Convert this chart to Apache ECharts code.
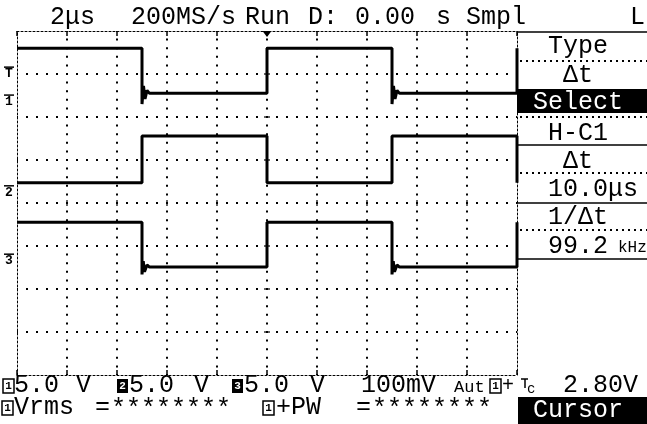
<!DOCTYPE html>
<html><head><meta charset="utf-8">
<script src="https://cdn.jsdelivr.net/npm/echarts@6/dist/echarts.min.js"></script>
<style>html,body{margin:0;padding:0;background:#fff}#c{width:647px;height:424px}</style>
</head><body><div id="c"></div>
<script>
// Time in µs (2 µs/div, 10 div); vertical position in screen divisions (-4..4)
const ch1Time = [0, 5.0, 5.0, 5.06, 5.12, 5.2, 5.3, 10.0, 10.0, 15.0, 15.0, 15.06, 15.12, 15.2, 15.3, 20.0, 20.0];
const ch1Div  = [3.6, 3.6, 2.3, 2.72, 2.42, 2.62, 2.55, 2.55, 3.6, 3.6, 2.3, 2.72, 2.42, 2.62, 2.55, 2.55, 3.6];
const ch2Time = [0, 5.0, 5.0, 10.0, 10.0, 15.0, 15.0, 20.0, 20.0];
const ch2Div  = [0.47, 0.47, 1.56, 1.56, 0.47, 0.47, 1.56, 1.56, 0.47];
const ch3Time = [0, 5.0, 5.0, 5.05, 5.1, 5.2, 5.3, 10.0, 10.0, 15.0, 15.0, 15.05, 15.1, 15.2, 15.3, 20.0, 20.0];
const ch3Div  = [-0.45, -0.45, -1.66, -1.35, -1.6, -1.44, -1.49, -1.49, -0.45, -0.45, -1.66, -1.35, -1.6, -1.44, -1.49, -1.49, -0.45];
const triggerTime = 10.0;
const markerLabels = ['T', '1', '2', '3'];
const markerDiv = [3.02, 2.37, 0.26, -1.33];
const centerTicksX = [2, 4, 6, 8, 12, 14, 16, 18];
const centerTicksY = [-3, -2, -1, 1, 2, 3];

const FONT = '"Liberation Mono", "DejaVu Sans Mono", monospace';
const F25 = '25px ' + FONT;
const chart = echarts.init(document.getElementById('c'));
const zip = (t, v) => t.map((x, i) => [x, v[i]]);

const borderLine = {show: true, onZero: false, lineStyle: {color: '#000', width: 1, type: [2, 2]}};
const edgeTick = {show: true, inside: true, length: 5, lineStyle: {color: '#000', width: 1.5}};
const wave = (t, v) => ({
  type: 'line', xAxisIndex: 0, yAxisIndex: 0, data: zip(t, v), showSymbol: false,
  lineStyle: {color: '#000', width: 3}, animation: false, clip: true, z: 5
});

const option = {
  animation: false,
  backgroundColor: '#fff',
  grid: {left: 17, top: 31, width: 500, height: 344, outerBoundsMode: 'none'},
  xAxis: [
    {type: 'value', min: 0, max: 20, interval: 2, position: 'bottom', axisLine: borderLine, axisTick: edgeTick,
     axisLabel: {show: false},
     splitLine: {show: true, showMinLine: false, showMaxLine: false, lineStyle: {color: '#000', width: 2, type: [2, 6.6], dashOffset: 1}}},
    {type: 'value', min: 0, max: 20, interval: 2, position: 'top', axisLine: borderLine, axisTick: edgeTick,
     axisLabel: {show: false}, splitLine: {show: false}}
  ],
  yAxis: [
    {type: 'value', min: -4, max: 4, interval: 1, position: 'left', axisLine: borderLine, axisTick: {show: false},
     axisLabel: {show: false},
     splitLine: {show: true, showMinLine: false, showMaxLine: false, lineStyle: {color: '#000', width: 2, type: [2, 8], dashOffset: 1}}},
    {type: 'value', min: -4, max: 4, interval: 1, position: 'right', axisLine: borderLine, axisTick: {show: false},
     axisLabel: {show: false}, splitLine: {show: false}}
  ],
  series: [
    Object.assign(wave(ch1Time, ch1Div), {
      markPoint: {symbol: 'triangle', symbolRotate: 180, symbolSize: [9, 6], symbolOffset: [0, 3],
        itemStyle: {color: '#000'}, label: {show: false},
        data: [{coord: [triggerTime, 4]}]}
    }),
    wave(ch2Time, ch2Div),
    wave(ch3Time, ch3Div),
    {type: 'scatter', xAxisIndex: 0, yAxisIndex: 0, data: centerTicksX.map(x => [x, 0]),
     symbol: 'rect', symbolSize: [1.5, 6], itemStyle: {color: '#000'}, silent: true, z: 3},
    {type: 'scatter', xAxisIndex: 0, yAxisIndex: 0, data: centerTicksY.map(y => [triggerTime, y]),
     symbol: 'rect', symbolSize: [6, 1.5], itemStyle: {color: '#000'}, silent: true, z: 3}
  ]
};
chart.setOption(option);

function txt(s, x, y, opt) {
  opt = opt || {};
  return {type: 'text', x: x, y: y, z: 20, silent: true,
    style: {text: s, font: opt.font || F25, fill: opt.fill || '#000', align: opt.align || 'left', verticalAlign: 'middle'}};
}
function hline(x1, x2, y, dotted) {
  return {type: 'line', z: 20, silent: true, shape: {x1: x1, y1: y, x2: x2, y2: y},
    style: {stroke: '#000', lineWidth: dotted ? 2 : 1.5, lineDash: dotted ? [2, 4] : null}};
}
function rect(x, y, w, h, filled) {
  return {type: 'rect', z: 19, silent: true, shape: {x: x, y: y, width: w, height: h},
    style: filled ? {fill: '#000'} : {fill: '#fff', stroke: '#000', lineWidth: 1.5}};
}
function boxNum(n, x, y, filled) {
  return [rect(x, y, 11, 14, filled),
    txt(n, x + 5.5, y + 7.5, {font: 'bold 11px ' + FONT, fill: filled ? '#fff' : '#000', align: 'center'})];
}

const g = [];
// top status line
g.push(txt('2μs', 50, 17.5), txt('200MS/s', 131, 17.5), txt('Run', 245, 17.5), txt('D:', 308, 17.5),
       txt('0.00', 355, 17.5), txt('s', 436, 17.5), txt('Smpl', 466, 17.5), txt('L', 630, 17.5));
// right menu
g.push(hline(517, 647, 32, false));
g.push(txt('Type', 548, 46.5), hline(520, 647, 61, true));
g.push(txt('Δt', 563, 75));
g.push(rect(517, 89, 130, 24, true), txt('Select', 533, 102, {fill: '#fff'}));
g.push(hline(520, 647, 117, true), txt('H-C1', 548, 133), hline(517, 647, 145, false));
g.push(txt('Δt', 563, 161.5), hline(520, 647, 173, true), txt('10.0μs', 548, 189.5), hline(517, 647, 203, false));
g.push(txt('1/Δt', 548, 217.5), hline(520, 647, 230, true), txt('99.2', 548, 246),
       txt('kHz', 618, 248, {font: '16px ' + FONT}), hline(517, 647, 259, false));
// bottom row 1
g.push(...boxNum('1', 3, 379, false), txt('5.0', 14, 385.5), txt('V', 76, 385.5));
g.push(...boxNum('2', 117, 379, true), txt('5.0', 129, 385.5), txt('V', 194, 385.5));
g.push(...boxNum('3', 232, 379, true), txt('5.0', 244, 385.5), txt('V', 310, 385.5));
g.push(txt('100mV', 361, 385.5), txt('Aut', 454, 387, {font: '17px ' + FONT}));
g.push(...boxNum('1', 490, 379, false), txt('+', 502, 385.5, {font: '20px ' + FONT}));
g.push({type: 'polyline', z: 20, silent: true, shape: {points: [[521, 379], [528, 379]]}, style: {stroke: '#000', lineWidth: 1.5, fill: null}},
       {type: 'polyline', z: 20, silent: true, shape: {points: [[525, 379], [525, 388]]}, style: {stroke: '#000', lineWidth: 1.5, fill: null}},
       txt('c', 527, 389, {font: '14px ' + FONT}));
g.push(txt('2.80V', 563, 385.5));
// bottom row 2
g.push(...boxNum('1', 2, 401, false), txt('Vrms', 14, 407.5), txt('=', 95, 407.5), txt('********', 111, 409));
g.push(...boxNum('1', 263, 401, false), txt('+PW', 276, 407.5), txt('=', 356, 407.5), txt('********', 372, 409));
g.push(rect(518, 397, 129, 27, true), txt('Cursor', 533, 410.5, {fill: '#fff'}));
// channel / trigger markers at left
markerLabels.forEach((m, i) => {
  const py = chart.convertToPixel({yAxisIndex: 0}, markerDiv[i]);
  g.push(hline(4, 14, py - 6, false), txt(m, 9, py + 1, {font: 'bold 13px ' + FONT, align: 'center'}));
});
chart.setOption({graphic: g});
</script></body></html>
